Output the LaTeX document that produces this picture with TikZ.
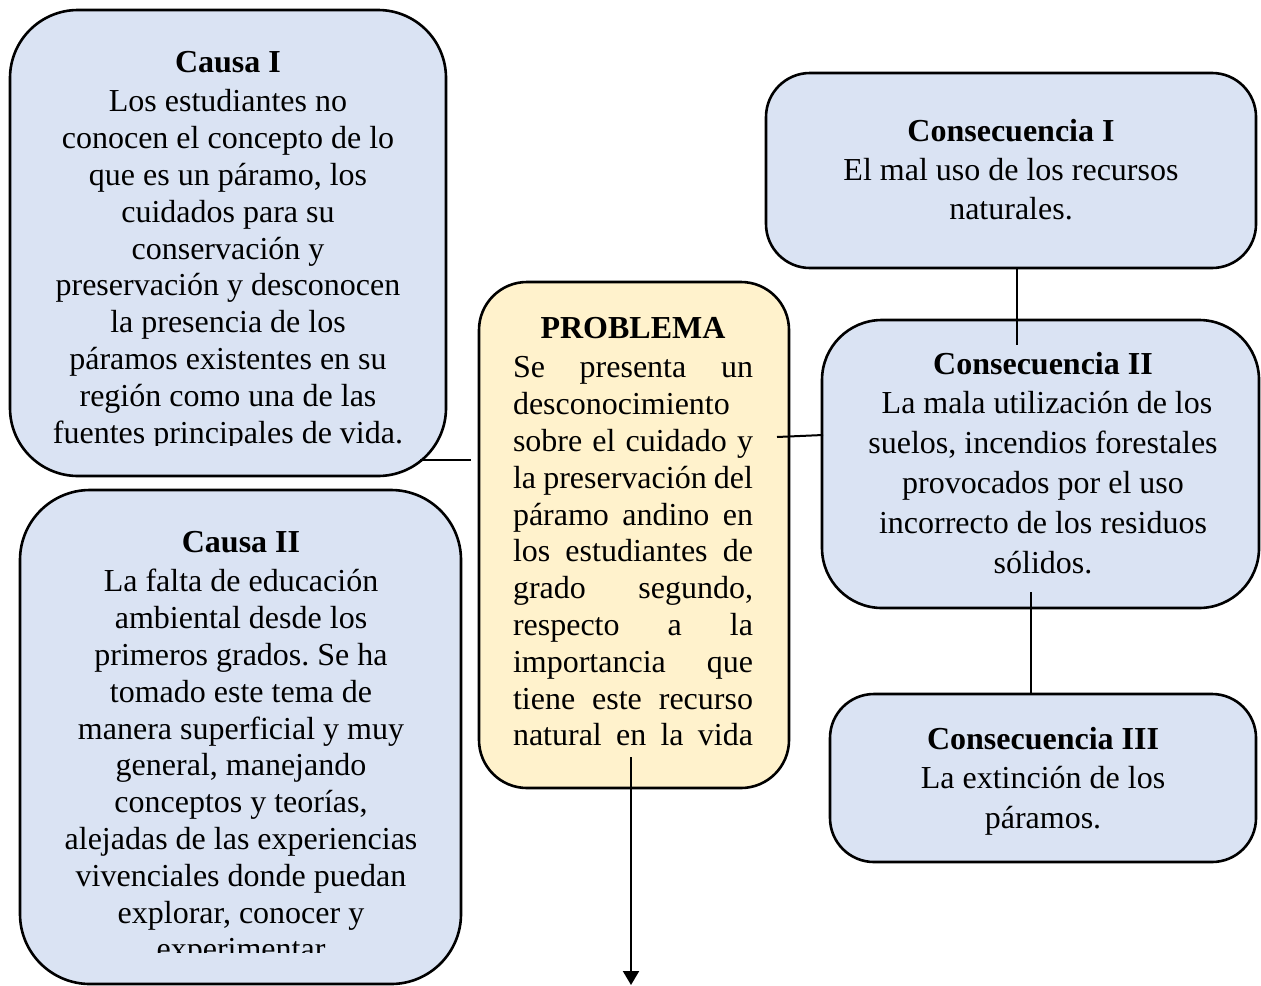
\documentclass[tikz,border=0pt]{standalone}
\usepackage{fontspec}
\setmainfont{Liberation Serif}
\usetikzlibrary{arrows.meta}
\definecolor{boxblue}{HTML}{DAE3F3}
\definecolor{boxyellow}{HTML}{FFF2CC}
\newlength\probw
\setlength\probw{120pt}
\newcommand\jline[1]{\makebox[\probw][s]{\spaceskip=0pt\xspaceskip=0pt\relax#1}}
\begin{document}
\begin{tikzpicture}[x=0.5pt,y=-0.5pt,
  box/.style={draw=black, line width=1.3pt, rounded corners=#1, inner sep=0pt},
  normalspaces/.style={execute at begin node={\spaceskip=0.25em\xspaceskip=0.25em\relax}},
  txtl/.style={font=\fontsize{16}{18.4}\selectfont, align=center, inner sep=0pt, anchor=base, normalspaces},
  txtc/.style={font=\fontsize{16}{19.6}\selectfont, align=center, inner sep=0pt, anchor=base, normalspaces},
  conn/.style={draw=black, line width=1pt}]
\useasboundingbox (0,0) rectangle (1261,985);

% boxes
\node[box=34pt, fill=boxblue, minimum width=218pt, minimum height=233pt] (causa1) at (228,243) {};
\node[box=35pt, fill=boxblue, minimum width=220.5pt, minimum height=247pt] (causa2) at (240.5,737) {};
\node[box=24pt, fill=boxyellow, minimum width=155pt, minimum height=253pt] (prob) at (634,535) {};
\node[box=22pt, fill=boxblue, minimum width=245pt, minimum height=97.5pt] (cons1) at (1011,170.5) {};
\node[box=30pt, fill=boxblue, minimum width=218.5pt, minimum height=144pt] (cons2) at (1040.5,464) {};
\node[box=22pt, fill=boxblue, minimum width=213pt, minimum height=84pt] (cons3) at (1043,778) {};

% texts
\begin{scope}
\clip (10,10) rectangle (446,445);
\node[txtl, text width=215pt] (causa1t) at (228,72) {\textbf{Causa I}\\[1.5pt]
Los estudiantes no\\
conocen el concepto de lo\\
que es un páramo, los\\
cuidados para su\\
conservación y\\
preservación y desconocen\\
la presencia de los\\
páramos existentes en su\\
región como una de las\\
fuentes principales de vida.};
\end{scope}

\begin{scope}
\clip (20,490) rectangle (461,952);
\node[txtl, text width=218pt] (causa2t) at (241,552) {\textbf{Causa II}\\[1.5pt]
La falta de educación\\
ambiental desde los\\
primeros grados. Se ha\\
tomado este tema de\\
manera superficial y muy\\
general, manejando\\
conceptos y teorías,\\
alejadas de las experiencias\\
vivenciales donde puedan\\
explorar, conocer y\\
experimentar};
\end{scope}

\node[txtl, font=\fontsize{16}{18.4}\selectfont, text width=\probw, align=left] (probt) at (633,338) {\makebox[\probw]{\textbf{PROBLEMA}}\\[1.5pt]
\jline{Se presenta un}\\
\makebox[\probw][l]{desconocimiento}\\
\jline{sobre el cuidado y}\\
\jline{la preservación del}\\
\jline{páramo andino en}\\
\jline{los estudiantes de}\\
\jline{grado segundo,}\\
\jline{respecto a la}\\
\jline{importancia que}\\
\jline{tiene este recurso}\\
\jline{natural en la vida}};

\node[txtc, text width=240pt] (cons1t) at (1011,141) {\textbf{Consecuencia I}\\
El mal uso de los recursos\\
naturales.};

\node[txtc, font=\fontsize{16}{19.9}\selectfont, text width=215pt] (cons2t) at (1043,374) {\textbf{Consecuencia II}\\
\hspace*{4pt}La mala utilización de los\\
suelos, incendios forestales\\
provocados por el uso\\
incorrecto de los residuos\\
sólidos.};

\node[txtc, font=\fontsize{16}{19.9}\selectfont, text width=210pt] (cons3t) at (1043,749) {\textbf{Consecuencia III}\\
La extinción de los\\
páramos.};

% connector end points
\coordinate (c1out) at (420,460);
\coordinate (probin) at (471,460);
\coordinate (probout) at (777,437);
\coordinate (cons2in) at (823,435);
\coordinate (cons1out) at (1017,268);
\coordinate (cons2top) at (1017,345);
\coordinate (cons2out) at (1031,592);
\coordinate (cons3in) at (1031,694);
\coordinate (probbot) at (631,757);
\coordinate (arrowend) at (631,985);

\draw[conn] (c1out) -- (probin);
\draw[conn] (probout) -- (cons2in);
\draw[conn] (cons1out) -- (cons2top);
\draw[conn] (cons2out) -- (cons3in);
\draw[conn, -{Triangle[width=8pt,length=7pt]}] (probbot) -- (arrowend);
\end{tikzpicture}
\end{document}
